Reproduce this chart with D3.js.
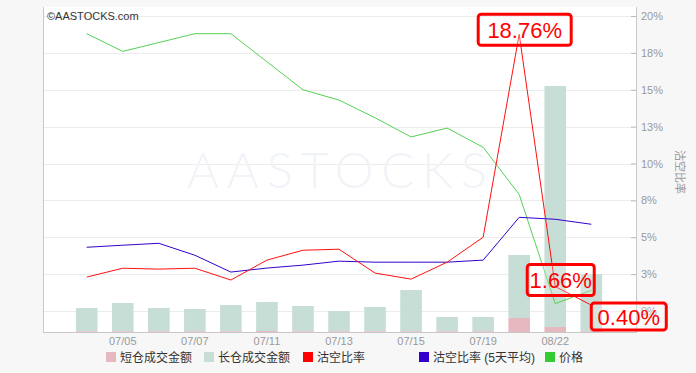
<!DOCTYPE html>
<html>
<head>
<meta charset="utf-8">
<script src="https://cdn.jsdelivr.net/npm/d3@7"></script>
<style>
  body { margin: 0; background: #f7f7f7; }
  svg { display: block; font-family: Arial, "Liberation Sans", "Noto Sans CJK SC", sans-serif; }
</style>
</head>
<body>
<svg></svg>
<script>
var WIDTH = 696;
var HEIGHT = 373;

// data
var dates = ['07/04', '07/05', '07/06', '07/07', '07/08', '07/11', '07/12', '07/13',
             '07/14', '07/15', '07/18', '07/19', '07/20', '08/22', '08/23'];
var shortAmt = [0.03, 0.03, 0.03, 0.03, 0.03, 0.04, 0.03, 0.03, 0.03, 0.03, 0.03, 0.03, 0.56, 0.2, 0.03];
var longAmt  = [0.93, 1.13, 0.93, 0.89, 1.05, 1.16, 1.01, 0.81, 0.97, 1.65, 0.57, 0.57, 2.52, 9.64, 2.29];
var shortRatio = [2.30, 2.90, 2.84, 2.90, 2.10, 3.45, 4.12, 4.19, 2.57, 2.16, 3.31, 5.00, 18.76, 1.66, 0.40];
var shortRatio5d = [4.32, 4.46, 4.59, 3.78, 2.64, 2.91, 3.11, 3.38, 3.31, 3.31, 3.31, 3.45, 6.35, 6.22, 5.88];
var price = [0.288, 0.276, 0.282, 0.288, 0.288, 0.269, 0.250, 0.243, 0.231, 0.218, 0.224, 0.211, 0.179, 0.105, 0.114];
var pctTicks = [0, 2.5, 5, 7.5, 10, 12.5, 15, 17.5, 20];
var xLabels = ['07/05', '07/07', '07/11', '07/13', '07/15', '07/19', '08/22'];
var callouts = [12, 13, 14];

var legendItems = [
  {name: '短仓成交金额', color: '#e6b9c1'},
  {name: '长仓成交金额', color: '#c7ded6'},
  {name: '沽空比率', color: '#ff0000'},
  {name: '沽空比率 (5天平均)', color: '#3300cc'},
  {name: '价格', color: '#33cc33'}
];

var LEFT = 43, RIGHT = 636, TOP = 7, BOTTOM = 332;

var svg = d3.select('svg')
  .attr('width', WIDTH)
  .attr('height', HEIGHT);

svg.append('rect')
  .attr('x', LEFT).attr('y', TOP)
  .attr('width', RIGHT - LEFT).attr('height', BOTTOM - TOP)
  .attr('fill', '#fff');

var xScale = d3.scaleBand().domain(dates).range([61.5, 616.5]).padding(0.4);
var yScale = d3.scaleLinear().domain([0, 20]).range([311, 16]);
var volScale = d3.scaleLinear().domain([0, 12]).range([BOTTOM, 32]);
var priceScale = d3.scaleLinear().domain([0.10, 0.30]).range([311, 16]);
var cx = function(d) { return xScale(d) + xScale.bandwidth() / 2; };

// grid
svg.append('g').selectAll('line').data(pctTicks).enter().append('line')
  .attr('x1', LEFT).attr('x2', RIGHT)
  .attr('y1', function(d) { return Math.round(yScale(d)) + 0.5; })
  .attr('y2', function(d) { return Math.round(yScale(d)) + 0.5; })
  .attr('stroke', '#ececec');

// watermark
svg.append('text')
  .attr('x', 187).attr('y', 188)
  .attr('textLength', 300).attr('lengthAdjust', 'spacing')
  .style('font-family', 'Lato, "Open Sans", sans-serif')
  .style('font-weight', 300)
  .style('font-size', '49px')
  .attr('fill', '#f0f3f7')
  .text('AASTOCKS');

svg.append('text')
  .attr('x', 47).attr('y', 20)
  .style('font-size', '11px').attr('fill', '#333')
  .text('©AASTOCKS.com');

// bars
var bars = svg.append('g');
bars.selectAll('.long').data(dates).enter().append('rect')
  .attr('x', function(d) { return xScale(d); })
  .attr('width', xScale.bandwidth())
  .attr('y', function(d, i) { return volScale(shortAmt[i] + longAmt[i]); })
  .attr('height', function(d, i) { return volScale(shortAmt[i]) - volScale(shortAmt[i] + longAmt[i]); })
  .attr('fill', '#c7ded6');
bars.selectAll('.short').data(dates).enter().append('rect')
  .attr('x', function(d) { return xScale(d); })
  .attr('width', xScale.bandwidth())
  .attr('y', function(d, i) { return volScale(shortAmt[i]); })
  .attr('height', function(d, i) { return BOTTOM - volScale(shortAmt[i]); })
  .attr('fill', '#e6b9c1');

// lines
var drawLine = function(values, scale, color) {
  var line = d3.line()
    .x(function(d, i) { return cx(dates[i]); })
    .y(function(d) { return scale(d); });
  svg.append('path').datum(values)
    .attr('d', line)
    .attr('fill', 'none')
    .attr('stroke', color)
    .attr('stroke-width', 1);
};
drawLine(price, priceScale, '#55d155');
drawLine(shortRatio5d, yScale, '#3300cc');
drawLine(shortRatio, yScale, '#ff1010');

// axes
var rightAxis = d3.axisRight(yScale)
  .tickValues(pctTicks)
  .tickSize(0)
  .tickPadding(5)
  .tickFormat(function(d) { return Math.round(d) + '%'; });
var gy = svg.append('g').attr('transform', 'translate(' + RIGHT + ',0)').call(rightAxis);
gy.select('.domain').remove();
gy.selectAll('text').attr('fill', '#999').style('font-size', '11px');
gy.selectAll('.tick').append('line')
  .attr('x1', -5).attr('x2', 0).attr('stroke', '#bbb');

svg.append('line')
  .attr('x1', RIGHT + 0.5).attr('x2', RIGHT + 0.5).attr('y1', TOP).attr('y2', BOTTOM + 1)
  .attr('stroke', '#c8c8c8');
svg.append('line')
  .attr('x1', LEFT + 0.5).attr('x2', LEFT + 0.5).attr('y1', TOP).attr('y2', BOTTOM + 1)
  .attr('stroke', '#c8c8c8');
svg.append('line')
  .attr('x1', LEFT).attr('x2', RIGHT + 1).attr('y1', BOTTOM + 0.5).attr('y2', BOTTOM + 0.5)
  .attr('stroke', '#c8c8c8');

var botAxis = d3.axisBottom(xScale).tickValues(xLabels).tickSize(0).tickPadding(4);
var gx = svg.append('g').attr('transform', 'translate(0,' + (BOTTOM + 1) + ')').call(botAxis);
gx.select('.domain').remove();
gx.selectAll('text').attr('fill', '#999').style('font-size', '11px');

svg.append('text')
  .attr('transform', 'translate(676,150) rotate(90)')
  .style('font-size', '11px').attr('fill', '#999')
  .text('沽空比率');

// callouts
var boxes = [
  {w: 93, h: 31, dx: -41, dy: -20},
  {w: 67, h: 31, dx: -28, dy: -22},
  {w: 75, h: 27, dx: 0, dy: -2}
];
callouts.forEach(function(idx, k) {
  var x0 = cx(dates[idx]) + boxes[k].dx;
  var y0 = yScale(shortRatio[idx]) + boxes[k].dy;
  svg.append('rect')
    .attr('x', x0).attr('y', y0)
    .attr('width', boxes[k].w).attr('height', boxes[k].h)
    .attr('rx', 3)
    .attr('fill', 'rgba(255,255,255,0.25)')
    .attr('stroke', '#ff0000').attr('stroke-width', 3);
  svg.append('text')
    .attr('x', x0 + boxes[k].w / 2).attr('y', y0 + boxes[k].h / 2 + 8)
    .attr('text-anchor', 'middle')
    .style('font-size', '22px').attr('fill', '#ff0000')
    .text(shortRatio[idx].toFixed(2) + '%');
});

// legend
var legendX = [106, 204, 303, 419, 545];
var lg = svg.append('g').selectAll('g').data(legendItems).enter().append('g')
  .attr('transform', function(d, i) { return 'translate(' + legendX[i] + ',352)'; });
lg.append('rect').attr('width', 10).attr('height', 10).attr('fill', function(d) { return d.color; });
lg.append('text').attr('x', 14).attr('y', 10)
  .style('font-size', '12px').attr('fill', '#333')
  .text(function(d) { return d.name; });
</script>
</body>
</html>
